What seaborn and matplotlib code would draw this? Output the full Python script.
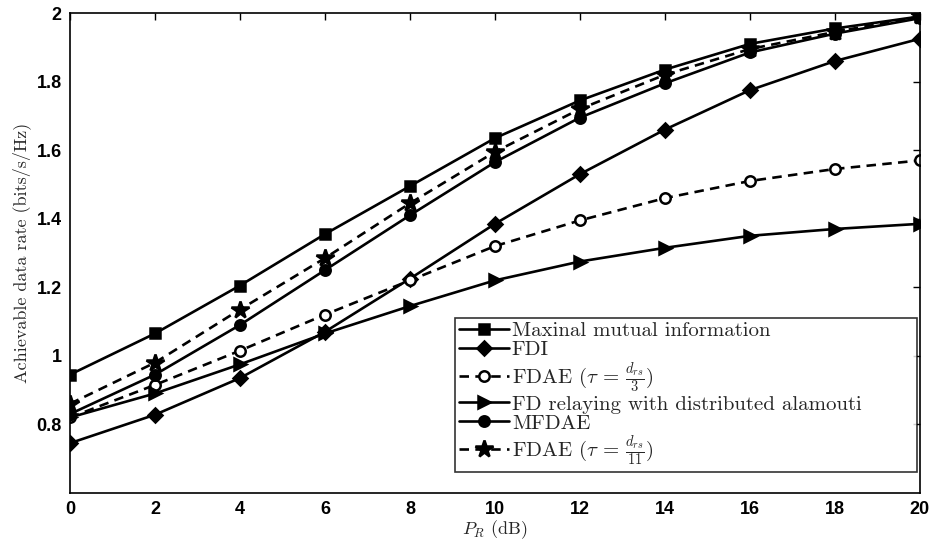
import matplotlib
matplotlib.use("Agg")
import matplotlib.pyplot as plt
import seaborn as sns
import pandas as pd

sns.set_theme(style="white")
plt.rcParams['mathtext.fontset'] = 'cm'
plt.rcParams['font.family'] = ['Liberation Sans', 'DejaVu Sans']
plt.rcParams['axes.unicode_minus'] = False

x_db = [0, 2, 4, 6, 8, 10, 12, 14, 16, 18, 20]
maximal = [0.945, 1.065, 1.205, 1.355, 1.495, 1.635, 1.745, 1.835, 1.91, 1.955, 1.99]
fdi = [0.745, 0.828, 0.935, 1.07, 1.225, 1.385, 1.53, 1.66, 1.775, 1.86, 1.925]
fdae3 = [0.82, 0.915, 1.015, 1.12, 1.22, 1.32, 1.395, 1.46, 1.51, 1.545, 1.57]
alamouti = [0.82, 0.89, 0.975, 1.065, 1.145, 1.22, 1.275, 1.315, 1.35, 1.37, 1.385]
mfdae = [0.83, 0.945, 1.09, 1.25, 1.41, 1.565, 1.695, 1.795, 1.885, 1.94, 1.985]
fdae11 = [0.86, 0.98, 1.135, 1.285, 1.445, 1.595, 1.72, 1.82, 1.895, 1.945, 1.99]

labels = ["Maxinal mutual information", "FDI",
          r"FDAE ($\tau\,=\,\frac{d_{rs}}{3}$)",
          "FD relaying with distributed alamouti", "MFDAE",
          r"FDAE ($\tau\,=\,\frac{d_{rs}}{11}$)"]
series = [maximal, fdi, fdae3, alamouti, mfdae, fdae11]
markers = ['s', 'D', 'o', '>', 'o', '*']
dashed = (0, (3.6, 2.4))
styles = ['-', '-', dashed, '-', '-', dashed]
msizes = [7, 7, 7.5, 8, 7.5, 13]
mfcs = ['black', 'black', 'white', 'black', 'black', 'black']

serif = ['cmr10', 'DejaVu Serif']

fig = plt.figure(figsize=(9.36, 5.44), dpi=100)
ax = fig.add_axes([0.0748, 0.094, 0.908, 0.882])

for lab, ys, m, ls, ms, mfc in zip(labels, series, markers, styles, msizes, mfcs):
    df = pd.DataFrame({"x": x_db, "y": ys})
    sns.lineplot(data=df, x="x", y="y", ax=ax, color='black', linewidth=1.9,
                 linestyle=ls, marker=m, markersize=ms, markerfacecolor=mfc,
                 markeredgecolor='black', markeredgewidth=1.8, label=lab)

ax.set_xlim(0, 20)
ax.set_ylim(0.6, 2)
ax.set_xticks(x_db)
ax.set_yticks([0.8, 1.0, 1.2, 1.4, 1.6, 1.8, 2.0])
ax.set_yticklabels(['0.8', '1', '1.2', '1.4', '1.6', '1.8', '2'])
ax.tick_params(direction='in', length=5, width=1, top=True, right=True,
               labelsize=13, colors='black', pad=6)
for t in ax.get_xticklabels() + ax.get_yticklabels():
    t.set_fontweight('bold')
for s in ax.spines.values():
    s.set_color('black')
    s.set_linewidth(1.2)

ax.set_xlabel(r"$P_R$ (dB)", fontsize=13, family=serif, labelpad=0)
ax.set_ylabel("Achievable data rate (bits/s/Hz)", fontsize=13,
              family=serif, labelpad=4)

leg = ax.legend(loc='lower left', bbox_to_anchor=(0.453, 0.044, 0.5435, 0.32),
                mode='expand',
                prop={'family': serif, 'size': 15},
                frameon=True, fancybox=False, edgecolor='black',
                handlelength=2.4, handletextpad=0.15, labelspacing=0.02,
                borderpad=0.18, borderaxespad=0)
leg.get_frame().set_linewidth(1.2)

fig.savefig("out.png", dpi=100)
